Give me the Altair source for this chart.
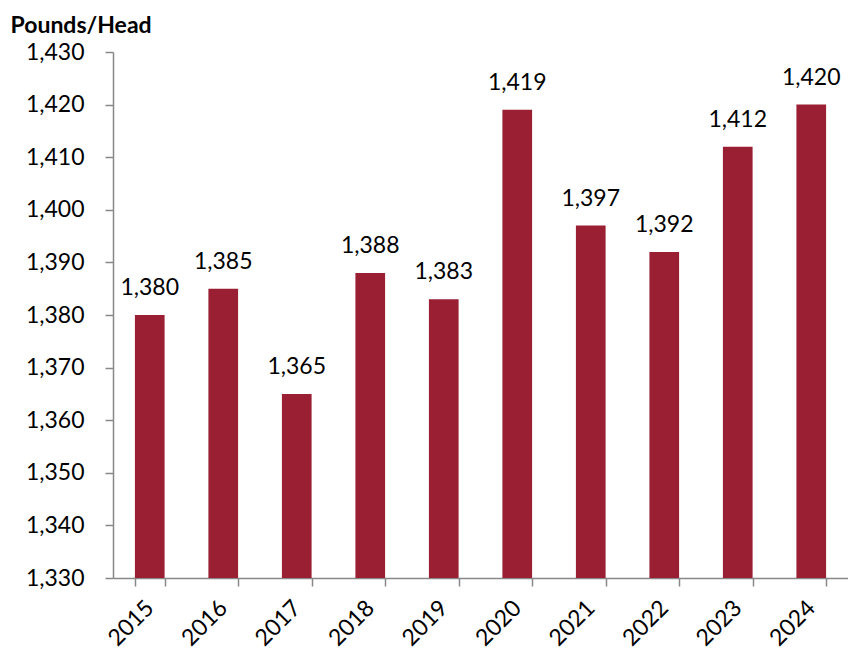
import altair as alt
import pandas as pd

years = ["2015", "2016", "2017", "2018", "2019", "2020", "2021", "2022", "2023", "2024"]
values = [1380, 1385, 1365, 1388, 1383, 1419, 1397, 1392, 1412, 1420]
y_ticks = [1330, 1340, 1350, 1360, 1370, 1380, 1390, 1400, 1410, 1420, 1430]

df = pd.DataFrame({"year": years, "value": values})

FONT = "Lato"
BAR = "#9A1F33"
AX = "#888888"
FS = 23

x = alt.X(
    "year:N",
    sort=years,
    scale=alt.Scale(paddingInner=0.596, paddingOuter=0.298),
    axis=alt.Axis(
        title=None,
        labelAngle=-45,
        labelAlign="right",
        labelBaseline="middle",
        labelFont=FONT,
        labelFontSize=FS,
        labelColor="#000000",
        labelPadding=18,
        tickBand="extent",
        tickSize=8,
        tickColor=AX,
        tickWidth=1.5,
        domainColor=AX,
        domainWidth=1.5,
    ),
)

y = alt.Y(
    "value:Q",
    scale=alt.Scale(domain=[1330, 1430], zero=False, nice=False),
    axis=alt.Axis(
        title="Pounds/Head",
        titleAngle=0,
        titleAlign="left",
        titleBaseline="alphabetic",
        titleX=-103,
        titleY=-20,
        titleFont=FONT,
        titleFontSize=23,
        titleFontWeight="bold",
        titleColor="#000000",
        values=y_ticks,
        format=",d",
        labelFont=FONT,
        labelFontSize=FS,
        labelColor="#000000",
        labelPadding=21,
        tickSize=8,
        tickColor=AX,
        tickWidth=1.5,
        domainColor=AX,
        domainWidth=1.5,
        grid=False,
    ),
)

bars = alt.Chart(df).mark_bar(color=BAR).encode(x=x, y=y, y2=alt.datum(1330))

labels = alt.Chart(df).mark_text(
    font=FONT, fontSize=FS, color="#000000", baseline="alphabetic", dy=-20
).encode(x=alt.X("year:N", sort=years), y="value:Q", text=alt.Text("value:Q", format=",d"))

chart = (
    alt.layer(bars, labels)
    .properties(
        width=735,
        height=526,
        autosize=alt.AutoSizeParams(type="none"),
        padding={"left": 105, "top": 44, "right": 0, "bottom": 74},
    )
    .configure_view(stroke=None)
)

chart.save("out.html", embed_options={"renderer": "svg", "actions": False})
